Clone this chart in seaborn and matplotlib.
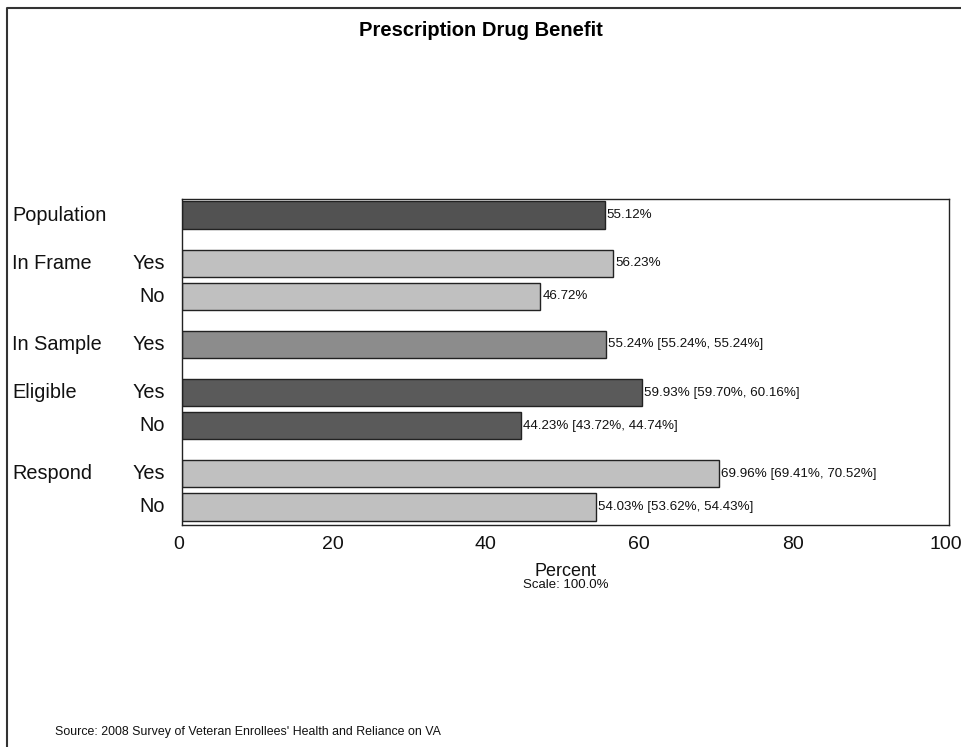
import matplotlib
matplotlib.use("Agg")
import matplotlib.pyplot as plt
import matplotlib.lines as mlines
import matplotlib.transforms as mtransforms
import seaborn as sns
import pandas as pd

sns.set_theme(style="white")
plt.rcParams["font.family"] = ["Liberation Sans", "DejaVu Sans"]

# Survey stages, sub-rows and estimates (percent)
groups = ["Population", "In Frame", "In Frame", "In Sample", "Eligible", "Eligible", "Respond", "Respond"]
subrows = ["", "Yes", "No", "Yes", "Yes", "No", "Yes", "No"]
percent = [55.12, 56.23, 46.72, 55.24, 59.93, 44.23, 69.96, 54.03]
ci_low = [None, None, None, 55.24, 59.70, 43.72, 69.41, 53.62]
ci_high = [None, None, None, 55.24, 60.16, 44.74, 70.52, 54.43]
ticks = [0, 20, 40, 60, 80, 100]

group_colors = {
    "Population": "#525252",
    "In Frame": "#c0c0c0",
    "In Sample": "#8c8c8c",
    "Eligible": "#5a5a5a",
    "Respond": "#c0c0c0",
}

# Row positions: rows within a group are one unit apart, groups are separated by a wider gap
pos = []
y = 0.0
for i, g in enumerate(groups):
    if i > 0:
        y += 1.0 if g == groups[i - 1] else 1.45
    pos.append(round(y, 2))

df = pd.DataFrame({"pos": pos, "percent": percent, "group": groups, "sub": subrows})

fig = plt.figure(figsize=(9.61, 7.47), dpi=100)
W, H = 961, 747
ax = fig.add_axes([182 / W, 1 - 525 / H, (949 - 182) / W, (525 - 199) / H])

sns.barplot(data=df, x="percent", y="pos", hue="pos", orient="h", native_scale=True,
            palette=[group_colors[g] for g in groups], width=0.82, legend=False,
            edgecolor="#222222", linewidth=1.0, saturation=1, ax=ax)

ax.set_xlim(0, 100)
ax.set_ylim(pos[-1] + 0.545, -0.485)
ax.set_xticks(ticks)
ax.set_xticklabels([str(t) for t in ticks], fontsize=14)
ax.tick_params(axis="x", length=0, pad=8, colors="#111111")
shift = mtransforms.ScaledTranslation(-3 / 100, 0, fig.dpi_scale_trans)
for lbl in ax.get_xticklabels():
    lbl.set_transform(lbl.get_transform() + shift)
ax.set_yticks([])
ax.set_ylabel("")
ax.set_xlabel("")
for s in ax.spines.values():
    s.set_visible(True)
    s.set_color("#222222")
    s.set_linewidth(1.0)

# Value labels at bar ends
for p, v, lo, hi in zip(pos, percent, ci_low, ci_high):
    txt = f"{v:.2f}%" if lo is None else f"{v:.2f}% [{lo:.2f}%, {hi:.2f}%]"
    ax.text(v + 0.25, p, txt, va="center", ha="left", fontsize=9.6, color="#111111")

# Row labels to the left of the plot
for i, (p, g, s) in enumerate(zip(pos, groups, subrows)):
    yfig = ax.transData.transform((0, p))[1]
    if i == 0 or g != groups[i - 1]:
        fig.text(12 / W, yfig / H, g, ha="left", va="center", fontsize=14.3, color="#111111")
    if s:
        fig.text(165 / W, yfig / H, s, ha="right", va="center", fontsize=14.3, color="#111111")

fig.text(481 / W, 1 - 30 / H, "Prescription Drug Benefit", ha="center", va="center",
         fontsize=14.5, fontweight="bold", color="#000000")
fig.text(566 / W, 1 - 571 / H, "Percent", ha="center", va="center", fontsize=13, color="#111111")
fig.text(566 / W, 1 - 585 / H, "Scale: 100.0%", ha="center", va="center", fontsize=9.5, color="#111111")
fig.text(55 / W, 1 - 732 / H, "Source: 2008 Survey of Veteran Enrollees' Health and Reliance on VA",
         ha="left", va="center", fontsize=8.9, color="#111111")

# Frame along the left and top edges
fig.add_artist(mlines.Line2D([7 / W, 7 / W, 1.0], [0.0, 1 - 8 / H, 1 - 8 / H],
                             transform=fig.transFigure, color="#333333", linewidth=1.5))

fig.savefig("out.png", dpi=100)
